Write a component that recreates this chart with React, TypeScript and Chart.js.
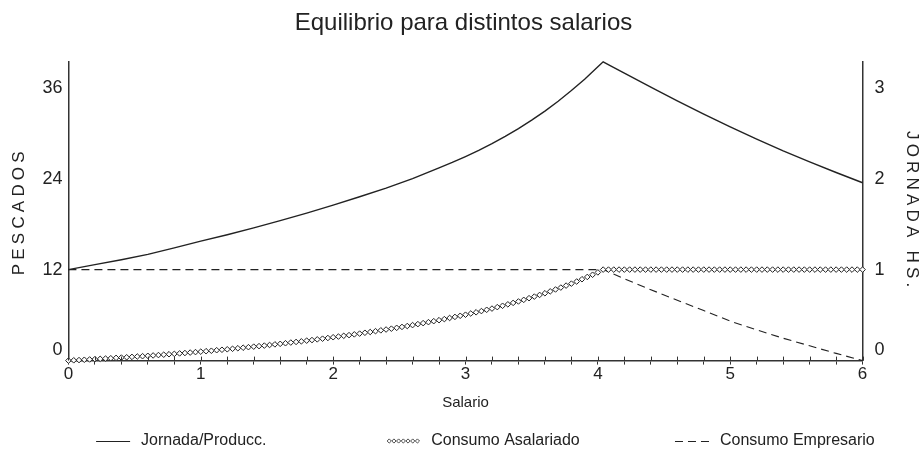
import { useEffect, useRef } from 'react';
import { Chart, registerables } from 'chart.js';

Chart.register(...registerables);

// ---- Datos ----
const salario = [
  0, 0.04, 0.08, 0.12, 0.16, 0.2, 0.24, 0.28, 0.32, 0.36,
  0.4, 0.44, 0.48, 0.52, 0.56, 0.6, 0.64, 0.68, 0.72, 0.76,
  0.8, 0.84, 0.88, 0.92, 0.96, 1, 1.04, 1.08, 1.12, 1.16,
  1.2, 1.24, 1.28, 1.32, 1.36, 1.4, 1.44, 1.48, 1.52, 1.56,
  1.6, 1.64, 1.68, 1.72, 1.76, 1.8, 1.84, 1.88, 1.92, 1.96,
  2, 2.04, 2.08, 2.12, 2.16, 2.2, 2.24, 2.28, 2.32, 2.36,
  2.4, 2.44, 2.48, 2.52, 2.56, 2.6, 2.64, 2.68, 2.72, 2.76,
  2.8, 2.84, 2.88, 2.92, 2.96, 3, 3.04, 3.08, 3.12, 3.16,
  3.2, 3.24, 3.28, 3.32, 3.36, 3.4, 3.44, 3.48, 3.52, 3.56,
  3.6, 3.64, 3.68, 3.72, 3.76, 3.8, 3.84, 3.88, 3.92, 3.96,
  4, 4.04, 4.08, 4.12, 4.16, 4.2, 4.24, 4.28, 4.32, 4.36,
  4.4, 4.44, 4.48, 4.52, 4.56, 4.6, 4.64, 4.68, 4.72, 4.76,
  4.8, 4.84, 4.88, 4.92, 4.96, 5, 5.04, 5.08, 5.12, 5.16,
  5.2, 5.24, 5.28, 5.32, 5.36, 5.4, 5.44, 5.48, 5.52, 5.56,
  5.6, 5.64, 5.68, 5.72, 5.76, 5.8, 5.84, 5.88, 5.92, 5.96,
  6,
];

const consumoAsalariado = [
  0, 0.04, 0.07, 0.11, 0.15, 0.19, 0.23, 0.27, 0.31, 0.36,
  0.4, 0.44, 0.49, 0.54, 0.58, 0.63, 0.68, 0.73, 0.78, 0.84,
  0.89, 0.95, 1.0, 1.06, 1.12, 1.18, 1.24, 1.3, 1.37, 1.43,
  1.49, 1.56, 1.63, 1.7, 1.77, 1.84, 1.91, 1.98, 2.06, 2.14,
  2.21, 2.29, 2.38, 2.46, 2.54, 2.63, 2.71, 2.8, 2.89, 2.98,
  3.08, 3.17, 3.27, 3.36, 3.46, 3.56, 3.67, 3.77, 3.88, 3.99,
  4.1, 4.21, 4.32, 4.44, 4.56, 4.68, 4.81, 4.94, 5.07, 5.2,
  5.33, 5.47, 5.62, 5.76, 5.91, 6.05, 6.21, 6.37, 6.53, 6.7,
  6.86, 7.05, 7.23, 7.42, 7.61, 7.8, 8.01, 8.23, 8.44, 8.66,
  8.88, 9.13, 9.38, 9.63, 9.89, 10.15, 10.43, 10.73, 11.03, 11.32,
  11.63, 12, 12, 12, 12, 12, 12, 12, 12, 12,
  12, 12, 12, 12, 12, 12, 12, 12, 12, 12,
  12, 12, 12, 12, 12, 12, 12, 12, 12, 12,
  12, 12, 12, 12, 12, 12, 12, 12, 12, 12,
  12, 12, 12, 12, 12, 12, 12, 12, 12, 12,
  12,
];

const salarioJornada = [
  0, 0.2, 0.4, 0.6, 0.8, 1, 1.2, 1.4, 1.6, 1.8,
  2, 2.2, 2.4, 2.6, 2.8, 2.9, 3, 3.1, 3.2, 3.3,
  3.4, 3.5, 3.6, 3.7, 3.8, 3.9, 4, 4.04, 4.1, 4.2,
  4.3, 4.4, 4.6, 4.8, 5, 5.2, 5.4, 5.6, 5.8, 6,
];

const jornadaHoras = [
  1.0, 1.054, 1.108, 1.167, 1.238, 1.313, 1.383, 1.458, 1.538, 1.621,
  1.708, 1.8, 1.896, 2.0, 2.117, 2.177, 2.242, 2.31, 2.383, 2.463,
  2.55, 2.642, 2.742, 2.85, 2.967, 3.092, 3.229, 3.283, 3.236, 3.158,
  3.081, 3.004, 2.854, 2.708, 2.567, 2.433, 2.304, 2.183, 2.067, 1.954,
];

const salarioEmpresario = [
  0, 0.2, 0.4, 0.6, 0.8, 1, 1.2, 1.4, 1.6, 1.8,
  2, 2.2, 2.4, 2.6, 2.8, 3, 3.2, 3.4, 3.6, 3.8,
  4.04, 4.2, 4.4, 4.6, 4.8, 5, 5.2, 5.4, 5.6, 5.8,
  6,
];

const consumoEmpresario = [
  12, 12, 12, 12, 12, 12, 12, 12, 12, 12,
  12, 12, 12, 12, 12, 12, 12, 12, 12, 12,
  12, 10.8, 9.35, 7.95, 6.6, 5.2, 4.05, 2.95, 1.95, 0.95,
  0,
];

const marcasSalario = [
  0, 0.2, 0.4, 0.6, 0.8, 1, 1.2, 1.4, 1.6, 1.8,
  2, 2.2, 2.4, 2.6, 2.8, 3, 3.2, 3.4, 3.6, 3.8,
  4, 4.2, 4.4, 4.6, 4.8, 5, 5.2, 5.4, 5.6, 5.8, 6,
];
const etiquetasSalario = [0, 1, 2, 3, 4, 5, 6];
const ticksPescados = [0, 12, 24, 36];
const ticksJornada = [0, 1, 2, 3];
const maxPescados = 39.4;
const maxJornada = 3.2833;

const titulo = 'Equilibrio para distintos salarios';
const tituloX = 'Salario';
const tituloY = 'PESCADOS';
const tituloY1 = 'JORNADA HS.';
const nombres = ['Jornada/Producc.', 'Consumo Asalariado', 'Consumo Empresario'];

// ---- Estilo ----
const FONT = "'Liberation Sans', Arial, Helvetica, sans-serif";
const INK = '#222222';
const AXIS = '#333333';

const pts = (xs: number[], ys: number[]) => xs.map((x, i) => ({ x, y: ys[i] }));

// the zero label sits a little above the axis line, as in the original
const etiquetaY = (v: any) => (Number(v) === 0 ? ['0', ''] : String(v));

const tituloEspaciado = {
  id: 'tituloEspaciado',
  beforeDraw(chart: any) {
    ['y', 'y1'].forEach((id) => {
      const s: any = chart.scales[id];
      if (!s || s._espaciado) return;
      const original = s.drawTitle;
      s.drawTitle = function () {
        const c = this.ctx;
        c.save();
        (c as any).letterSpacing = '4.2px';
        original.call(this);
        c.restore();
      };
      s._espaciado = true;
    });
  },
};

const marcasCruzadas = {
  id: 'marcasCruzadas',
  afterDraw(chart: any) {
    const s = chart.scales.x;
    const ctx = chart.ctx;
    const b = chart.chartArea.bottom;
    ctx.save();
    ctx.strokeStyle = AXIS;
    ctx.lineWidth = 1;
    s.ticks.forEach((t: any) => {
      const px = Math.round(s.getPixelForValue(t.value)) + 0.5;
      ctx.beginPath();
      ctx.moveTo(px, b - 4);
      ctx.lineTo(px, b);
      ctx.stroke();
    });
    ctx.restore();
  },
};

const diamante = (ctx: CanvasRenderingContext2D, x: number, y: number, r: number) => {
  ctx.beginPath();
  ctx.moveTo(x, y - r);
  ctx.lineTo(x + r, y);
  ctx.lineTo(x, y + r);
  ctx.lineTo(x - r, y);
  ctx.closePath();
  ctx.fillStyle = '#fff';
  ctx.fill();
  ctx.stroke();
};

const leyendaInferior = {
  id: 'leyendaInferior',
  afterDraw(chart: any) {
    const ctx: CanvasRenderingContext2D = chart.ctx;
    const y = chart.height - 16;
    const cols = [0.104, 0.418, 0.7305];
    ctx.save();
    chart.data.datasets.forEach((ds: any, i: number) => {
      const x0 = chart.width * cols[i];
      ctx.strokeStyle = INK;
      ctx.setLineDash([]);
      if (ds.muestra === 'linea') {
        ctx.lineWidth = 1.2;
        ctx.beginPath();
        ctx.moveTo(x0, y + 0.5);
        ctx.lineTo(x0 + 34, y + 0.5);
        ctx.stroke();
      } else if (ds.muestra === 'rombos') {
        ctx.lineWidth = 0.8;
        for (let k = 0; k < 7; k++) diamante(ctx, x0 + 3 + k * 4.7, y, 2.1);
      } else {
        ctx.lineWidth = 1.2;
        ctx.setLineDash([8, 5]);
        ctx.beginPath();
        ctx.moveTo(x0, y + 0.5);
        ctx.lineTo(x0 + 34, y + 0.5);
        ctx.stroke();
        ctx.setLineDash([]);
      }
      ctx.fillStyle = INK;
      ctx.font = `16px ${FONT}`;
      ctx.textBaseline = 'middle';
      ctx.textAlign = 'left';
      ctx.fillText(ds.label, x0 + 45, y);
    });
    ctx.restore();
  },
};

export default function App() {
  const ref = useRef<HTMLCanvasElement>(null);

  useEffect(() => {
    if (!ref.current) return;
    const chart = new Chart(ref.current, {
      type: 'line',
      data: {
        datasets: [
          {
            label: nombres[0],
            data: pts(salarioJornada, jornadaHoras),
            yAxisID: 'y1',
            borderColor: INK,
            borderWidth: 1.4,
            pointRadius: 0,
            fill: false,
            tension: 0,
            clip: false,
            order: 1,
            muestra: 'linea',
          } as any,
          {
            label: nombres[1],
            data: pts(salario, consumoAsalariado),
            yAxisID: 'y',
            showLine: false,
            pointStyle: 'rectRot',
            pointRadius: 2.8,
            pointBorderWidth: 1,
            pointBorderColor: INK,
            pointBackgroundColor: '#ffffff',
            borderColor: INK,
            clip: false,
            order: 0,
            muestra: 'rombos',
          } as any,
          {
            label: nombres[2],
            data: pts(salarioEmpresario, consumoEmpresario),
            yAxisID: 'y',
            borderColor: INK,
            borderWidth: 1.1,
            borderDash: [8, 5],
            pointRadius: 0,
            fill: false,
            tension: 0,
            clip: false,
            order: 2,
            muestra: 'guiones',
          } as any,
        ],
      },
      options: {
        responsive: true,
        maintainAspectRatio: false,
        animation: false,
        events: [],
        layout: { padding: { left: 5, right: 2, top: 0, bottom: 45 } },
        plugins: {
          legend: { display: false },
          tooltip: { enabled: false },
          title: {
            display: true,
            text: titulo,
            color: INK,
            font: { family: FONT, size: 24, weight: 'normal' },
            padding: { top: 9, bottom: 24 },
          },
        },
        scales: {
          x: {
            type: 'linear',
            min: 0,
            max: 6,
            afterBuildTicks: (s: any) => {
              s.ticks = marcasSalario.map((v) => ({ value: v }));
            },
            ticks: {
              autoSkip: false,
              maxRotation: 0,
              padding: 0,
              color: INK,
              font: { family: FONT, size: 17 },
              callback: (v: any) => {
                const e = etiquetasSalario.find((t) => Math.abs(t - Number(v)) < 1e-6);
                return e === undefined ? '' : String(e);
              },
            },
            grid: { display: true, drawOnChartArea: false, drawTicks: true, tickLength: 4, color: AXIS, lineWidth: 1 },
            border: { display: true, color: AXIS, width: 1.5 },
            title: {
              display: true,
              text: tituloX,
              color: INK,
              font: { family: FONT, size: 15 },
              padding: { top: 9, bottom: 0 },
            },
          },
          y: {
            type: 'linear',
            position: 'left',
            min: 0,
            max: maxPescados,
            afterBuildTicks: (s: any) => {
              s.ticks = ticksPescados.map((v) => ({ value: v }));
            },
            ticks: { padding: 6, color: INK, font: { family: FONT, size: 18 }, callback: etiquetaY },
            grid: { display: false, drawTicks: false },
            border: { display: true, color: AXIS, width: 1.5 },
            title: {
              display: true,
              text: tituloY,
              color: INK,
              font: { family: FONT, size: 17 },
              padding: { top: 4, bottom: 7 },
            },
          },
          y1: {
            type: 'linear',
            position: 'right',
            min: 0,
            max: maxJornada,
            afterBuildTicks: (s: any) => {
              s.ticks = ticksJornada.map((v) => ({ value: v }));
            },
            ticks: { padding: 12, color: INK, font: { family: FONT, size: 18 }, callback: etiquetaY },
            grid: { display: false, drawTicks: false },
            border: { display: true, color: AXIS, width: 1.5 },
            title: {
              display: true,
              text: tituloY1,
              color: INK,
              font: { family: FONT, size: 17 },
              padding: { top: 0, bottom: 5 },
            },
          },
        },
      } as any,
      plugins: [tituloEspaciado, marcasCruzadas, leyendaInferior],
    });
    return () => chart.destroy();
  }, []);

  return (
    <div style={{ position: 'fixed', left: 0, top: 0, width: '100vw', height: '100vh', background: '#fff' }}>
      <canvas ref={ref} />
    </div>
  );
}
